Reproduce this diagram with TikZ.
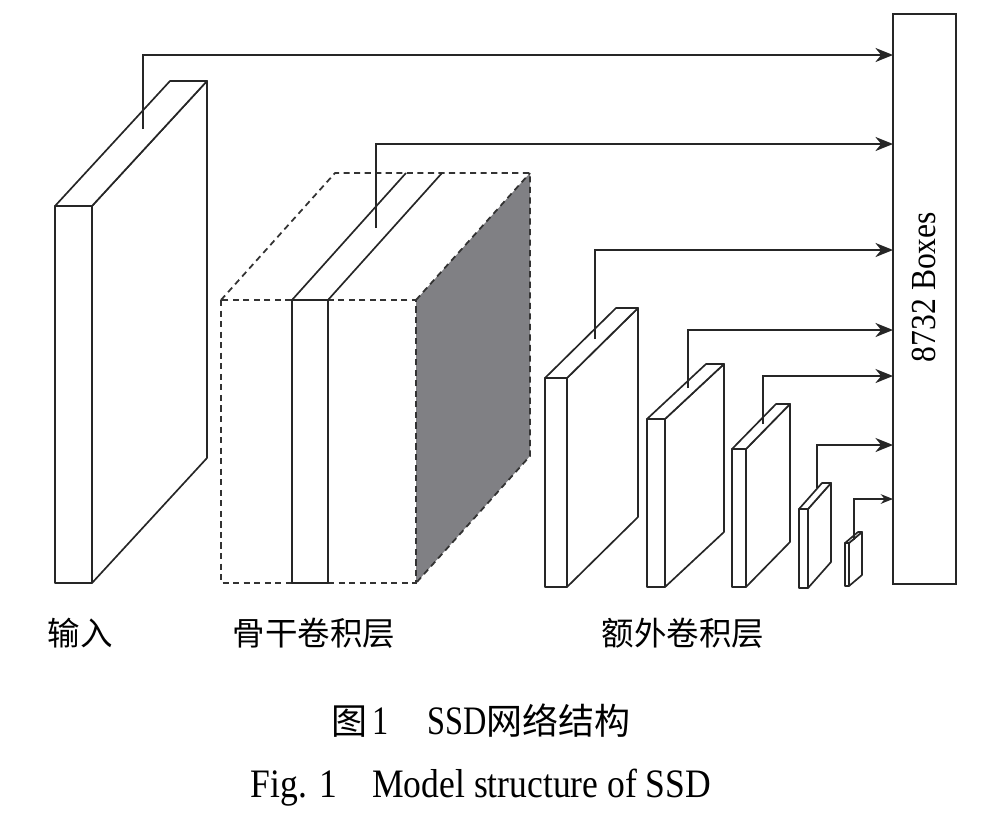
\documentclass[tikz,border=0pt]{standalone}
\usepackage{fontspec}
\setmainfont{Liberation Serif}
\newfontfamily\cjk{Noto Sans CJK SC}
\usetikzlibrary{arrows.meta}

\definecolor{bbgray}{RGB}{128,128,132}

% #1 x, #2 top, #3 bottom, #4 width, #5 depth dx, #6 depth dy
\newcommand{\drawslab}[6]{%
  \filldraw[slab] ({#1+#4},#2) -- ({#1+#4+#5},{#2-#6}) -- ({#1+#4+#5},{#3-#6}) -- ({#1+#4},#3) -- cycle;
  \filldraw[slab] (#1,#2) -- ({#1+#5},{#2-#6}) -- ({#1+#4+#5},{#2-#6}) -- ({#1+#4},#2) -- cycle;
  \filldraw[slab] (#1,#2) rectangle ({#1+#4},#3);
}

\begin{document}
\begin{tikzpicture}[x=0.02cm,y=-0.02cm,
  slab/.style={draw=black!85,line width=0.95pt,fill=white,line join=round},
  bbdash/.style={draw=black!80,line width=1pt,dash pattern=on 3.5pt off 2.5pt},
  feed/.style={draw=black!85,line width=1.3pt,-{Stealth[length=10pt,width=8pt]}},
  feedthin/.style={draw=black!85,line width=0.8pt,-{Stealth[length=7pt,width=5.5pt]}},
  lbl/.style={font=\cjk\fontsize{18.5}{20}\selectfont,inner sep=0pt}]
  \useasboundingbox (0,0) rectangle (997,829);

  % Input slab
  \drawslab{55}{206}{583}{37}{115}{125}

  % Backbone block (dashed outline, shaded side)
  \fill[bbgray] (416,300) -- (530,173) -- (530,456) -- (416,583) -- cycle;
  \draw[bbdash] (221,300) rectangle (416,583);
  \draw[bbdash] (221,300) -- (335,173) -- (530,173) -- (530,456) -- (416,583);
  \draw[bbdash] (416,300) -- (530,173);
  % inner slice
  \draw[slab,fill=none] (292,300) rectangle (328,583);
  \draw[slab] (292,300) -- (406,173);
  \draw[slab] (328,300) -- (442,173);

  % Extra layers
  \foreach \x/\yt/\yb/\w/\dx/\dy in {545/378/587/22/71/70, 647/419/587/18/59/55,
      732/449/587/14/44/45, 799/509/588/9/23/26, 845/543/586/4/13/11} {
    \drawslab{\x}{\yt}{\yb}{\w}{\dx}{\dy}
  }

  % Output box
  \node[draw=black!85,line width=1.1pt,fill=white,minimum width=1.26cm,minimum height=11.4cm,
    inner sep=0pt,outer sep=0pt] (boxes) at (924.5,299) {};
  \node[inner sep=0pt,rotate=90,font=\fontsize{20}{22}\selectfont] (boxlbl) at (924,287)
    {\scalebox{0.9}[1]{8732 Boxes}};

  % Feature taps to the box
  \foreach \tx/\ty/\hy [count=\i] in {143/129/55, 376/228/144, 595/339/250,
      688/388/330, 763/424/376, 817/488/445} {
    \coordinate (tap\i) at (\tx,\ty);
    \coordinate (lvl\i) at (0,\hy);
    \draw[feed] (tap\i) |- (boxes.west |- lvl\i);
  }
  \coordinate (tap7) at (854,540);
  \coordinate (lvl7) at (0,499);
  \draw[feedthin] (tap7) |- (boxes.west |- lvl7);

  % Labels
  \node[lbl] (inlbl) at (80,633) {输入};
  \node[lbl] (bblbl) at (314,633) {骨干卷积层};
  \node[lbl] (exlbl) at (683,633) {额外卷积层};

  % Caption
  \node[inner sep=0pt] (cap1) at (481,721)
    {{\cjk\fontsize{20.5}{22}\selectfont 图}\scalebox{0.8}[1]{\fontsize{23}{24}\selectfont\,1\hspace{1.2em}SSD}{\cjk\fontsize{20.5}{22}\selectfont 网络结构}};
  \node[inner sep=0pt,anchor=base] (cap2) at (481,797)
    {\scalebox{0.88}[1]{\fontsize{23}{24}\selectfont Fig. 1\hspace{1em}Model structure of SSD}};
\end{tikzpicture}
\end{document}
